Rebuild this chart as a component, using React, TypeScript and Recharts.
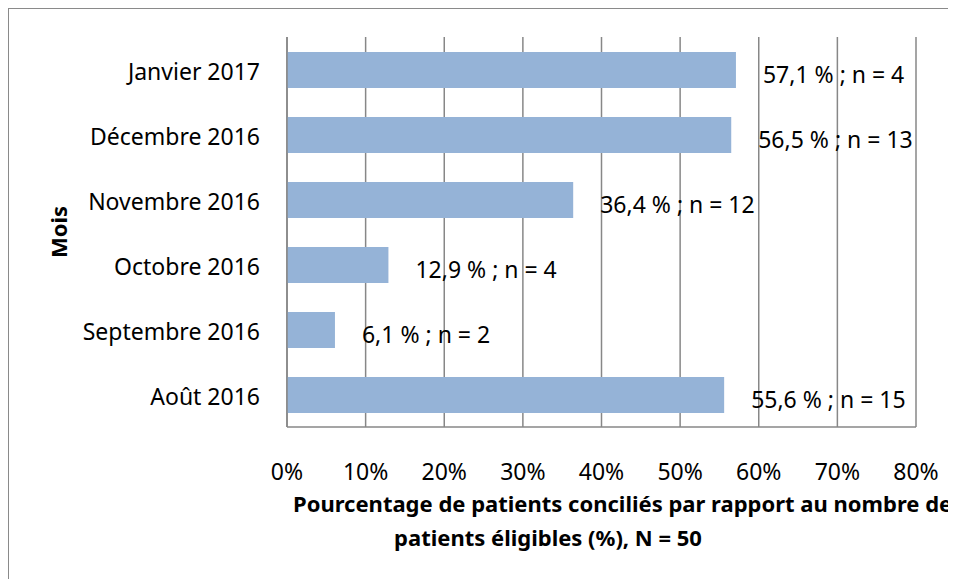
import React from "react";
import { BarChart, Bar, XAxis, YAxis, CartesianGrid, LabelList } from "recharts";

const months = ["Janvier 2017", "Décembre 2016", "Novembre 2016", "Octobre 2016", "Septembre 2016", "Août 2016"];
const percentages = [57.1, 56.5, 36.4, 12.9, 6.1, 55.6];
const counts = [4, 13, 12, 4, 2, 15];
const xTicks = [0, 10, 20, 30, 40, 50, 60, 70, 80];
const yTitle = "Mois";
const xTitleLine1 = "Pourcentage de patients conciliés par rapport au nombre de";
const xTitleLine2 = "patients éligibles (%), N = 50";

const data = months.map((m, i) => ({
  month: m,
  value: percentages[i],
  label: `${percentages[i].toFixed(1).replace(".", ",")} % ; n = ${counts[i]}`,
}));

const FONT = "'Noto Sans', sans-serif";
const GRID = "#878787";

const YTick = (props: any) => {
  const { x, y, payload } = props;
  return (
    <text x={x - 19} y={y + 1} textAnchor="end" dominantBaseline="central" fontFamily={FONT} fontSize={23} fill="#000">
      {payload.value}
    </text>
  );
};

const XTick = (props: any) => {
  const { x, y, payload } = props;
  return (
    <text x={x} y={y + 36} textAnchor="middle" dominantBaseline="central" fontFamily={FONT} fontSize={23} fill="#000">
      {`${payload.value}%`}
    </text>
  );
};

const BarLabel = (props: any) => {
  const { x, y, width, height, value } = props;
  return (
    <text x={x + width + 27} y={y + height / 2 + 4} textAnchor="start" dominantBaseline="central" fontFamily={FONT} fontSize={23} fill="#000">
      {value}
    </text>
  );
};

export default function App() {
  return (
    <div style={{ width: 948, height: 571, position: "relative", overflow: "hidden" }}>
      <BarChart
        width={948}
        height={571}
        data={data}
        layout="vertical"
        margin={{ top: 29, right: 40, left: 0, bottom: 0 }}
        barSize={36}
      >
        <line x1={0} y1={0} x2={0} y2={571} stroke="#8a8a8a" strokeWidth={2} />
        <line x1={0} y1={0} x2={948} y2={0} stroke="#8a8a8a" strokeWidth={2} />
        <CartesianGrid horizontal={false} vertical={true} stroke={GRID} strokeWidth={1.5} />
        <XAxis
          type="number"
          domain={[0, 80]}
          ticks={xTicks}
          tick={<XTick />}
          tickLine={false}
          axisLine={{ stroke: GRID, strokeWidth: 1.5 }}
          height={152}
          interval={0}
        />
        <YAxis
          type="category"
          dataKey="month"
          width={279}
          tick={<YTick />}
          tickLine={false}
          axisLine={{ stroke: GRID, strokeWidth: 1.5 }}
          interval={0}
        />
        <Bar dataKey="value" fill="#95B3D7" isAnimationActive={false}>
          <LabelList dataKey="label" content={<BarLabel />} />
        </Bar>
        <text
          x={50}
          y={224}
          transform="rotate(-90 50 224)"
          textAnchor="middle"
          dominantBaseline="central"
          fontFamily={FONT}
          fontWeight="bold"
          fontSize={22}
          fill="#000"
        >
          {yTitle}
        </text>
        <text x={285} y={495} textAnchor="start" dominantBaseline="central" fontFamily={FONT} fontWeight="bold" fontSize={22} fill="#000">
          {xTitleLine1}
        </text>
        <text x={540} y={529} textAnchor="middle" dominantBaseline="central" fontFamily={FONT} fontWeight="bold" fontSize={22} fill="#000">
          {xTitleLine2}
        </text>
      </BarChart>
    </div>
  );
}
